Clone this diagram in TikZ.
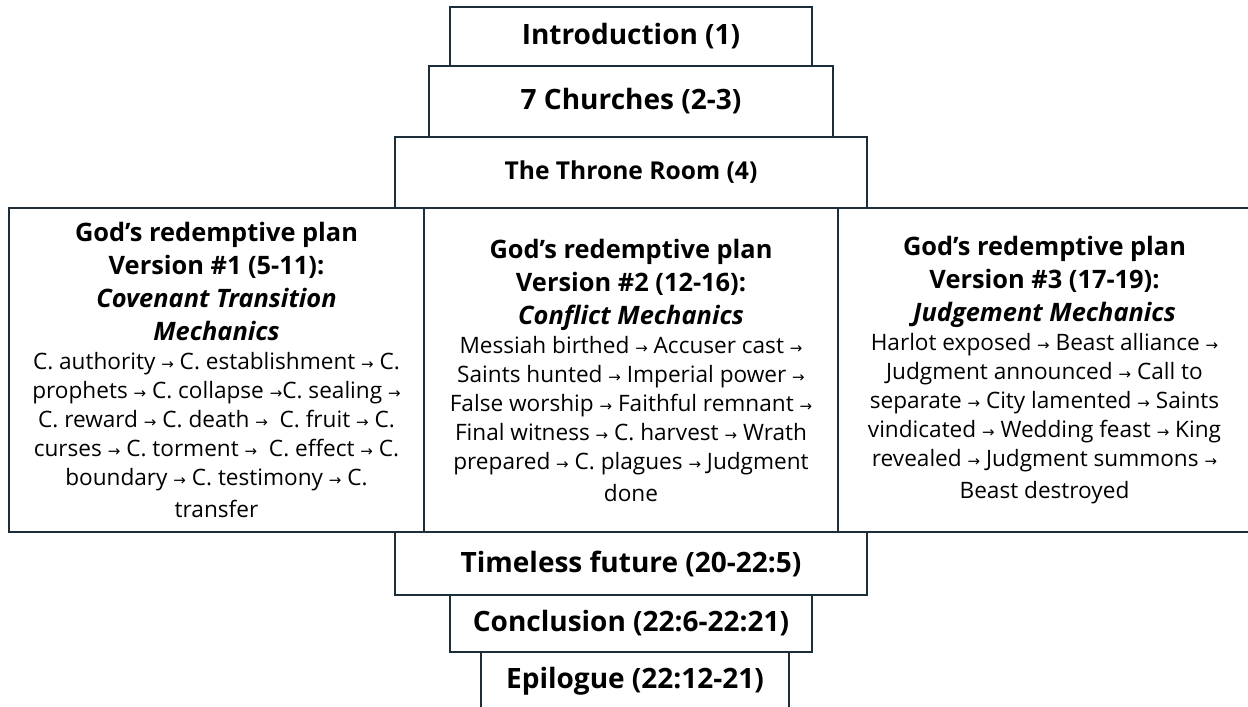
\documentclass[tikz,border=0pt]{standalone}
\usepackage{fontspec}
\setmainfont{Open Sans}
\newfontfamily\symfont{DejaVu Sans}
\definecolor{edge}{HTML}{1D2E3B}
\newcommand{\nxt}{{\symfont\fontsize{7.5}{7.5}\selectfont →}}
\newcommand{\vhead}{\fontsize{12.7}{16.5}\selectfont\bfseries}
\newcommand{\vbody}{\fontsize{11.3}{14.5}\selectfont\mdseries\upshape}

\begin{document}
\begin{tikzpicture}[x=0.5pt, y=-0.5pt,
  b/.style={draw=edge, line width=1pt, align=flush center, inner sep=0pt, font=\fontsize{14}{16}\selectfont\bfseries},
  col/.style={b, text width=200pt, minimum height=162pt}]
\useasboundingbox (0,0) rectangle (1248,707);
\node[b, minimum width=181pt, minimum height=29.5pt] (intro) at (631,36.5) {Introduction (1)};
\node[b, minimum width=202pt, minimum height=35.5pt] (churches) at (631,101.5) {7 Churches (2-3)};
\node[b, minimum width=236pt, minimum height=35.5pt, font=\fontsize{12.3}{14}\selectfont\bfseries] (throne) at (631,172.5) {The Throne Room (4)};
\node[col, minimum width=207.5pt] (vone) at (216.5,370) {\vhead God’s redemptive plan\\ Version \#1 (5-11):\\ \itshape Covenant Transition\\ Mechanics\par
  \vbody C. authority \nxt{} C. establishment \nxt{} C.\\ prophets \nxt{} C. collapse \nxt C. sealing \nxt\\ C. reward \nxt{} C. death \nxt{} \ C. fruit \nxt{} C.\\ curses \nxt{} C. torment \nxt{} \ C. effect \nxt{} C.\\ boundary \nxt{} C. testimony \nxt{} C.\\ transfer};
\node[col, minimum width=207pt] (vtwo) at (631,370) {\vhead God’s redemptive plan\\ Version \#2 (12-16):\\ \itshape Conflict Mechanics\par
  \vbody Messiah birthed \nxt{} Accuser cast \nxt\\ Saints hunted \nxt{} Imperial power \nxt\\ False worship \nxt{} Faithful remnant \nxt\\ Final witness \nxt{} C. harvest \nxt{} Wrath\\ prepared \nxt{} C. plagues \nxt{} Judgment\\ done};
\node[col, minimum width=206.5pt] (vthree) at (1044.5,370) {\vhead God’s redemptive plan\\ Version \#3 (17-19):\\ \itshape Judgement Mechanics\par
  \vbody Harlot exposed \nxt{} Beast alliance \nxt\\ Judgment announced \nxt{} Call to\\ separate \nxt{} City lamented \nxt{} Saints\\ vindicated \nxt{} Wedding feast \nxt{} King\\ revealed \nxt{} Judgment summons \nxt\\ Beast destroyed};
\node[b, minimum width=236pt, minimum height=31.5pt] (future) at (631,563.5) {Timeless future (20-22:5)};
\node[b, minimum width=181pt, minimum height=28.5pt] (concl) at (631,623.5) {Conclusion (22:6-22:21)};
\node[b, minimum width=154pt, minimum height=29pt] (epi) at (635,681) {Epilogue (22:12-21)};
\end{tikzpicture}
\end{document}
